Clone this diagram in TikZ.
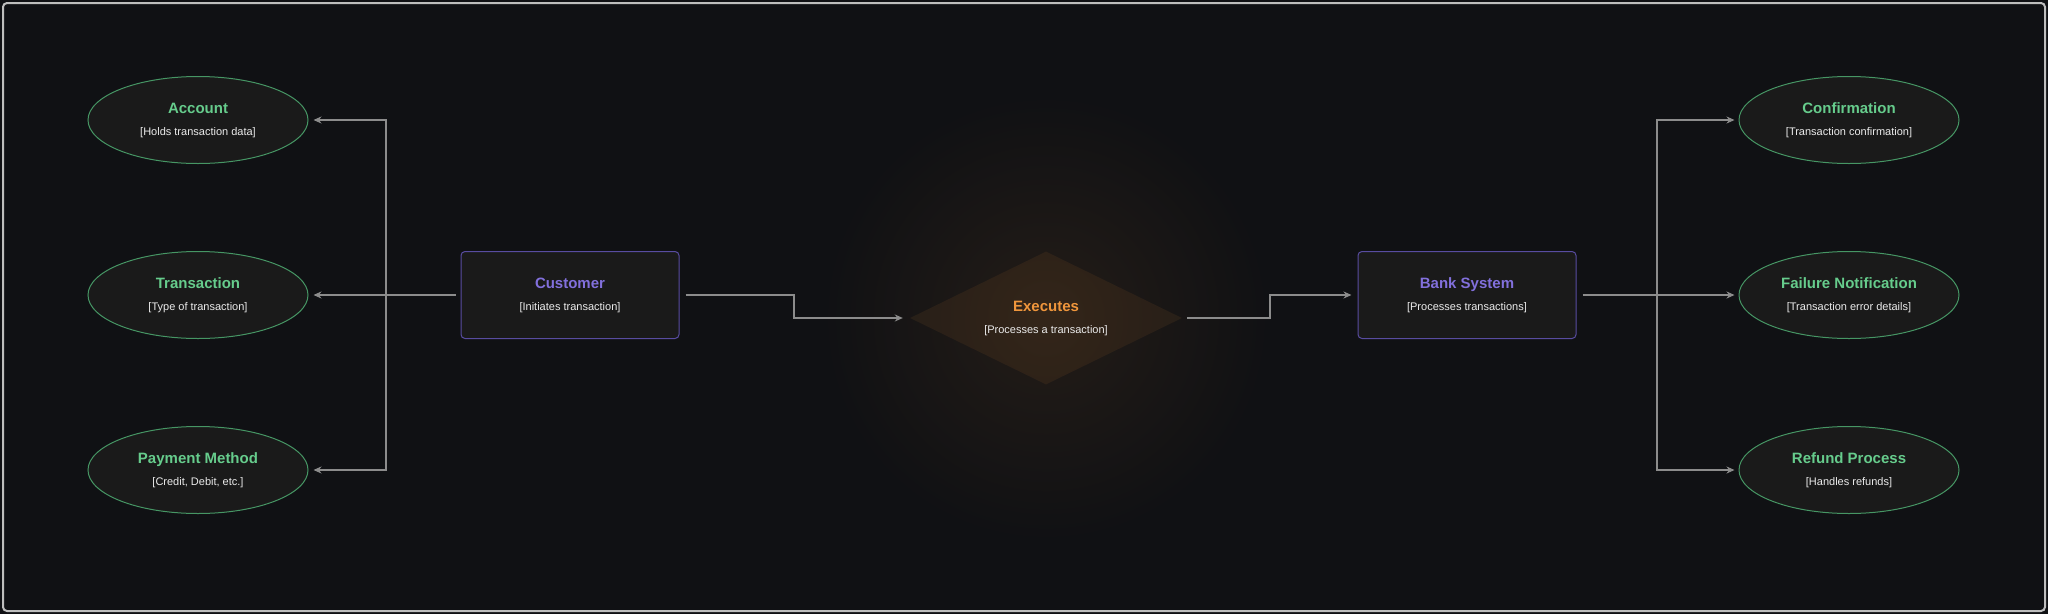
\documentclass[tikz,border=0pt]{standalone}
\usepackage{fontspec}
\setmainfont{Liberation Sans}
\usetikzlibrary{shapes.geometric, arrows.meta}
\definecolor{bg}{RGB}{16,17,20}
\definecolor{nodefill}{RGB}{26,26,26}
\definecolor{entgreen}{RGB}{102,204,140}
\definecolor{entedge}{RGB}{70,150,100}
\definecolor{actpurple}{RGB}{130,112,220}
\definecolor{actedge}{RGB}{88,76,160}
\definecolor{relorange}{RGB}{240,150,60}
\definecolor{wiregray}{RGB}{140,140,140}
\definecolor{framegray}{RGB}{190,190,190}

\begin{document}
\begin{tikzpicture}[x=1pt, y=-1pt,
    entity/.style={ellipse, draw=entedge, fill=nodefill, line width=1pt,
                   minimum width=220pt, minimum height=87pt},
    actor/.style={rectangle, rounded corners=4pt, draw=actedge, fill=nodefill,
                  line width=1pt, minimum width=218pt, minimum height=87pt},
    rel/.style={diamond, fill=relorange, fill opacity=0.08, inner sep=0pt,
                minimum width=272pt, minimum height=133pt},
    ttl/.style={font=\bfseries\fontsize{15}{18}\selectfont,
                text height=11pt, text depth=0pt},
    sub/.style={font=\fontsize{11}{13}\selectfont, text=white!92!black},
    wire/.style={draw=wiregray, line width=2pt},
    conn/.style={wire, -{Stealth[length=8pt, width=7pt]}}]

  % background and frame
  \fill[bg] (0,0) rectangle (2048,614);
  \shade[inner color=relorange, outer color=bg, opacity=0.09] (1046,318) circle (230);
  \draw[framegray, line width=2pt, rounded corners=4pt] (3,3) rectangle (2045,611);

  % left entities
  \node[entity] (acc) at (198,120) {};
  \node[ttl, text=entgreen] (acc-t) at (198,108) {Account};
  \node[sub] (acc-s) at (198,133) {[Holds transaction data]};

  \node[entity] (trans) at (198,295) {};
  \node[ttl, text=entgreen] (trans-t) at (198,283) {Transaction};
  \node[sub] (trans-s) at (198,308) {[Type of transaction]};

  \node[entity] (pay) at (198,470) {};
  \node[ttl, text=entgreen] (pay-t) at (198,458) {Payment Method};
  \node[sub] (pay-s) at (198,483) {[Credit, Debit, etc.]};

  % actors
  \node[actor] (cust) at (570,295) {};
  \node[ttl, text=actpurple] (cust-t) at (570,283) {Customer};
  \node[sub] (cust-s) at (570,308) {[Initiates transaction]};

  \node[actor] (bank) at (1467,295) {};
  \node[ttl, text=actpurple] (bank-t) at (1467,283) {Bank System};
  \node[sub] (bank-s) at (1467,308) {[Processes transactions]};

  % relation
  \node[rel] (exe) at (1046,318) {};
  \node[ttl, text=relorange] (exe-t) at (1046,306) {Executes};
  \node[sub] (exe-s) at (1046,331) {[Processes a transaction]};

  % right entities
  \node[entity] (conf) at (1849,120) {};
  \node[ttl, text=entgreen] (conf-t) at (1849,108) {Confirmation};
  \node[sub] (conf-s) at (1849,133) {[Transaction confirmation]};

  \node[entity] (fail) at (1849,295) {};
  \node[ttl, text=entgreen] (fail-t) at (1849,283) {Failure Notification};
  \node[sub] (fail-s) at (1849,308) {[Transaction error details]};

  \node[entity] (refund) at (1849,470) {};
  \node[ttl, text=entgreen] (refund-t) at (1849,458) {Refund Process};
  \node[sub] (refund-s) at (1849,483) {[Handles refunds]};

  % connectors
  \coordinate (lj) at (386,295);
  \coordinate (rj) at (1657,295);

  \draw[wire, shorten <=5pt] (cust.west) -- (lj);
  \draw[conn, shorten >=5pt] (lj) |- (acc.east);
  \draw[conn, shorten >=5pt] (lj) -- (trans.east);
  \draw[conn, shorten >=5pt] (lj) |- (pay.east);

  \draw[conn, shorten <=6pt, shorten >=7pt] (cust.east) -- ++(114,0) |- (exe.west);
  \draw[conn, shorten <=5pt, shorten >=6pt] (exe.east) -- ++(88,0) |- (bank.west);

  \draw[wire, shorten <=6pt] (bank.east) -- (rj);
  \draw[conn, shorten >=4pt] (rj) |- (conf.west);
  \draw[conn, shorten >=4pt] (rj) -- (fail.west);
  \draw[conn, shorten >=4pt] (rj) |- (refund.west);
\end{tikzpicture}
\end{document}
